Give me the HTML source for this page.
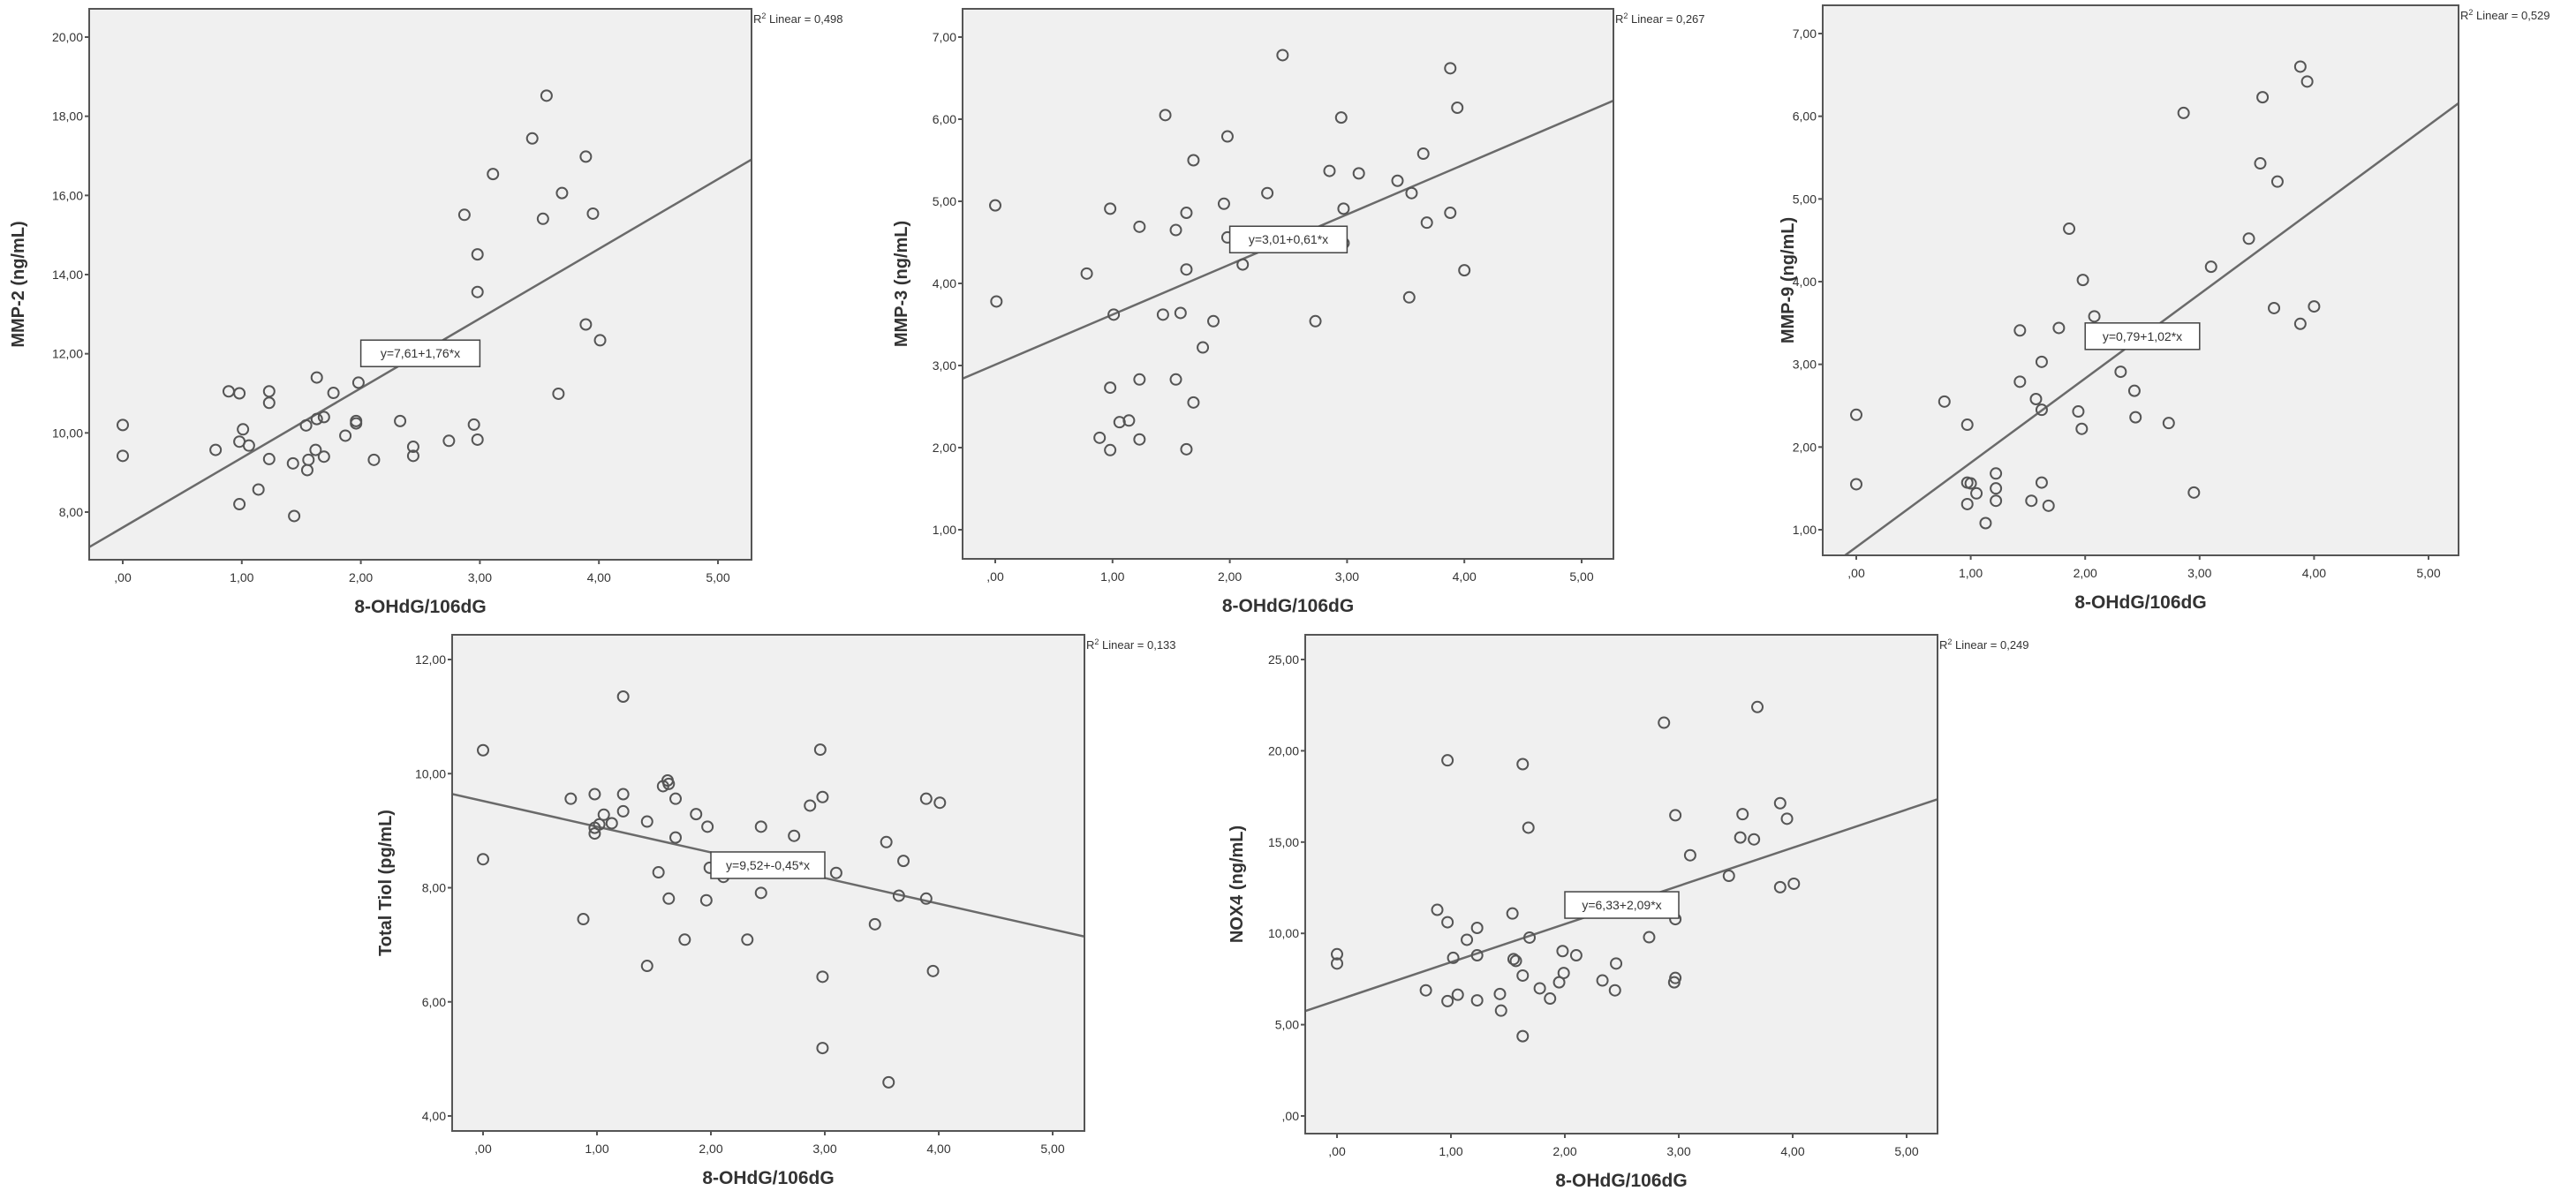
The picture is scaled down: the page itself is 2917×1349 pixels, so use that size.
<!DOCTYPE html>
<html><head><meta charset="utf-8">
<style>
html,body{margin:0;padding:0;background:#fff;}
svg{display:block;font-family:"Liberation Sans",Arial,sans-serif;}
</style></head>
<body>
<svg id="fig" width="2917" height="1349" viewBox="0 0 2917 1349" xmlns="http://www.w3.org/2000/svg"></svg>
<script>
// ---- data ----
const xTicks = [0,1,2,3,4,5];
const xTickLabels = [",00","1,00","2,00","3,00","4,00","5,00"];

const mmp2X = [0,0,0.78,0.89,0.98,1.01,0.98,1.06,0.98,1.14,1.23,1.23,1.23,1.43,1.44,1.54,1.56,1.55,1.63,1.69,1.63,1.62,1.69,1.77,1.87,1.96,1.96,1.98,2.11,2.33,2.44,2.44,2.74,2.87,2.98,2.98,2.95,2.98,3.11,3.44,3.56,3.53,3.69,3.89,3.95,3.89,4.01,3.66];
const mmp2Y = [10.2,9.42,9.57,11.05,11.0,10.09,9.78,9.68,8.2,8.57,11.05,10.76,9.34,9.23,7.9,10.19,9.32,9.06,10.35,10.4,11.4,9.57,9.4,11.01,9.93,10.24,10.3,11.27,9.32,10.3,9.65,9.42,9.8,15.51,14.51,13.56,10.21,9.83,16.54,17.44,18.52,15.41,16.06,16.98,15.54,12.74,12.34,10.99];

const mmp3X = [0,0.01,0.78,0.98,1.01,0.98,0.89,0.98,1.06,1.14,1.23,1.23,1.23,1.45,1.43,1.54,1.54,1.58,1.63,1.63,1.69,1.69,1.63,1.77,1.86,1.95,1.98,1.98,2.11,2.32,2.45,2.73,2.85,2.95,2.97,2.97,3.1,3.43,3.55,3.53,3.65,3.68,3.88,3.94,3.88,4.0];
const mmp3Y = [4.95,3.78,4.12,4.91,3.62,2.73,2.12,1.97,2.31,2.33,4.69,2.83,2.1,6.05,3.62,4.65,2.83,3.64,4.86,4.17,5.5,2.55,1.98,3.22,3.54,4.97,5.79,4.56,4.23,5.1,6.78,3.54,5.37,6.02,4.91,4.49,5.34,5.25,5.1,3.83,5.58,4.74,6.62,6.14,4.86,4.16];

const mmp9X = [0,0,0.77,0.97,0.97,1.0,1.05,0.97,1.13,1.22,1.22,1.22,1.43,1.43,1.53,1.57,1.62,1.62,1.62,1.68,1.77,1.86,1.94,1.97,1.98,2.08,2.31,2.43,2.44,2.73,2.86,2.95,2.95,3.1,3.43,3.53,3.55,3.65,3.68,3.88,3.94,3.88,4.0];
const mmp9Y = [2.39,1.55,2.55,2.27,1.57,1.56,1.44,1.31,1.08,1.68,1.5,1.35,3.41,2.79,1.35,2.58,3.03,2.45,1.57,1.29,3.44,4.64,2.43,2.22,4.02,3.58,2.91,2.68,2.36,2.29,6.04,3.29,1.45,4.18,4.52,5.43,6.23,3.68,5.21,6.6,6.42,3.49,3.7];

const tiolX = [0,0,0.77,0.88,0.98,0.98,0.98,1.02,1.06,1.13,1.23,1.23,1.23,1.44,1.44,1.54,1.58,1.62,1.63,1.63,1.69,1.69,1.77,1.87,1.96,1.97,1.99,2.11,2.32,2.44,2.44,2.73,2.87,2.96,2.98,2.98,2.98,3.1,3.44,3.54,3.56,3.65,3.69,3.89,3.89,4.01,3.95];
const tiolY = [10.41,8.5,9.56,7.45,9.64,9.05,8.95,9.11,9.28,9.13,11.35,9.64,9.34,9.16,6.63,8.27,9.78,9.88,9.82,7.81,9.56,8.88,7.09,9.29,7.78,9.07,8.35,8.19,7.09,7.91,9.07,8.91,9.44,10.42,9.59,6.44,5.19,8.26,7.36,8.8,4.59,7.86,8.47,7.81,9.56,9.49,6.54];

const nox4X = [0,0,0.78,0.88,0.97,0.97,0.97,1.02,1.06,1.14,1.23,1.23,1.23,1.43,1.44,1.54,1.55,1.57,1.63,1.63,1.63,1.68,1.69,1.78,1.87,1.95,1.98,1.99,2.1,2.33,2.45,2.44,2.74,2.87,2.97,2.97,2.97,2.96,3.1,3.44,3.56,3.54,3.66,3.69,3.89,3.95,3.89,4.01];
const nox4Y = [8.86,8.35,6.88,11.29,19.48,10.61,6.29,8.66,6.64,9.65,10.3,8.8,6.33,6.68,5.77,11.09,8.59,8.49,19.27,7.69,4.37,15.79,9.77,6.99,6.43,7.32,9.03,7.83,8.8,7.42,8.35,6.88,9.79,21.54,16.47,10.78,7.56,7.32,14.28,13.15,16.53,15.25,15.15,22.4,17.13,16.28,12.53,12.72];

const intercepts = [7.61,3.01,0.79,9.52,6.33];
const slopes = [1.76,0.61,1.02,-0.45,2.09];
const eqLabels = ["y=7,61+1,76*x","y=3,01+0,61*x","y=0,79+1,02*x","y=9,52+-0,45*x","y=6,33+2,09*x"];
const r2Labels = ["0,498","0,267","0,529","0,133","0,249"];
const yTitles = ["MMP-2 (ng/mL)","MMP-3 (ng/mL)","MMP-9 (ng/mL)","Total Tiol (pg/mL)","NOX4 (ng/mL)"];
const yTicks1 = [8,10,12,14,16,18,20];
const yTicks2 = [1,2,3,4,5,6,7];
const yTicks3 = [1,2,3,4,5,6,7];
const yTicks4 = [4,6,8,10,12];
const yTicks5 = [0,5,10,15,20,25];

// ---- layout (pixel geometry, not data) ----
const panels = [
 {id:"mmp2",xs:mmp2X,ys:mmp2Y,yt:yTicks1,L:101,T:10,R:851,B:634,px0:139,px5:813,vA:8,pA:580,vB:20,pB:42,ytx:20},
 {id:"mmp3",xs:mmp3X,ys:mmp3Y,yt:yTicks2,L:1090,T:10,R:1827,B:633,px0:1127,px5:1791,vA:1,pA:600,vB:7,pB:42,ytx:1020},
 {id:"mmp9",xs:mmp9X,ys:mmp9Y,yt:yTicks3,L:2064,T:6,R:2784,B:629,px0:2102,px5:2750,vA:1,pA:600,vB:7,pB:38,ytx:2024},
 {id:"total-tiol",xs:tiolX,ys:tiolY,yt:yTicks4,L:512,T:719,R:1228,B:1281,px0:547,px5:1192,vA:4,pA:1264,vB:12,pB:747,ytx:436},
 {id:"nox4",xs:nox4X,ys:nox4Y,yt:yTicks5,L:1478,T:719,R:2194,B:1284,px0:1514,px5:2159,vA:0,pA:1264,vB:25,pB:747,ytx:1400}
];
const NS="http://www.w3.org/2000/svg";
const svg=document.getElementById('fig');
function mk(tag,attrs,parent){const e=document.createElementNS(NS,tag);for(const k in attrs)e.setAttribute(k,attrs[k]);parent.appendChild(e);return e;}
function fmt(v){const s=v.toFixed(2).replace('.',',');return s.startsWith('0,')?s.slice(1):s;}

panels.forEach((p,i)=>{
  const sx=v=>p.px0+(p.px5-p.px0)*v/5;
  const sy=v=>p.pA+(p.pB-p.pA)*(v-p.vA)/(p.vB-p.vA);
  const g=mk('g',{},svg);
  
  
  const cp=mk('clipPath',{id:'clip'+i},g);
  mk('rect',{x:p.L,y:p.T,width:p.R-p.L,height:p.B-p.T},cp);
  const bg=mk('rect',{x:p.L,y:p.T,width:p.R-p.L,height:p.B-p.T,fill:'#f0f0f0',stroke:'none'},g);
  
  
  // y ticks
  p.yt.forEach(v=>{
    const y=sy(v);
    const tk=mk('line',{x1:p.L-5,x2:p.L,y1:y,y2:y,stroke:'#555','stroke-width':2},g);
    
    
    const t=mk('text',{x:p.L-7,y:y+5,'font-size':14,'text-anchor':'end',fill:'#333'},g);
    t.textContent=fmt(v);
    
    
  });
  // x ticks
  xTicks.forEach((v,k)=>{
    const x=sx(v);
    const tk=mk('line',{x1:x,x2:x,y1:p.B,y2:p.B+5,stroke:'#555','stroke-width':2},g);
    
    
    const t=mk('text',{x:x,y:p.B+25,'font-size':14,'text-anchor':'middle',fill:'#333'},g);
    t.textContent=xTickLabels[k];
    
    
  });
  // regression line
  const xa=(p.L-p.px0)/(p.px5-p.px0)*5, xb=(p.R-p.px0)/(p.px5-p.px0)*5;
  const ln=mk('line',{x1:sx(xa),y1:sy(intercepts[i]+slopes[i]*xa),x2:sx(xb),y2:sy(intercepts[i]+slopes[i]*xb),stroke:'#6a6a6a','stroke-width':2.5,'clip-path':'url(#clip'+i+')'},g);
  
  
  // points
  p.xs.forEach((xv,k)=>{
    const c=mk('circle',{cx:sx(xv),cy:sy(p.ys[k]),r:6,fill:'none',stroke:'#555','stroke-width':2},g);
    
    
  });
  // equation box
  const ex=sx(2.5), ey=sy(intercepts[i]+slopes[i]*2.5);
  const bw=(p.px5-p.px0)/5, bh=30;
  const eb=mk('rect',{x:ex-bw/2,y:ey-bh/2,width:bw,height:bh,fill:'#fff',stroke:'#444','stroke-width':1.5},g);
  
  
  const et=mk('text',{x:ex,y:ey+5,'font-size':14,'text-anchor':'middle',fill:'#333'},g);
  et.textContent=eqLabels[i];
  
  
  // border
  const bd=mk('rect',{x:p.L,y:p.T,width:p.R-p.L,height:p.B-p.T,fill:'none',stroke:'#555','stroke-width':2},g);
  
  
  // R2
  const r=mk('text',{x:p.R+2,y:p.T+16,'font-size':13,fill:'#333'},g);
  r.innerHTML='R<tspan dy="-5" font-size="9">2</tspan><tspan dy="5"> Linear = '+r2Labels[i]+'</tspan>';
  
  
  // axis titles
  const xt=mk('text',{x:(p.L+p.R)/2,y:p.B+60,'font-size':21,'font-weight':'bold','text-anchor':'middle',fill:'#333'},g);
  xt.textContent='8-OHdG/106dG';
  
  
  const cy=(p.T+p.B)/2;
  const yt=mk('text',{x:p.ytx,y:cy,'font-size':20,'font-weight':'bold','text-anchor':'middle',fill:'#333',transform:'rotate(-90 '+p.ytx+' '+cy+')',dy:'7'},g);
  yt.textContent=yTitles[i];
  
  
});
</script>
</body></html>
